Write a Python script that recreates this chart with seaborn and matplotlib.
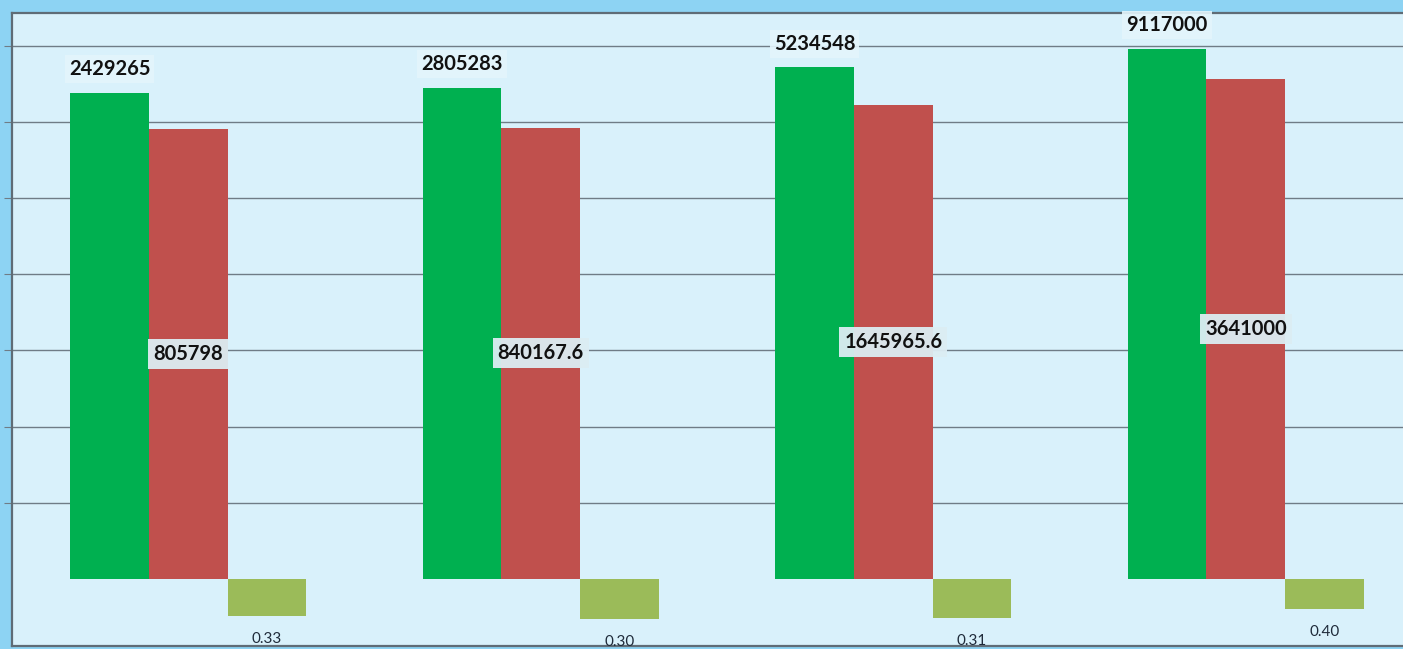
import matplotlib
matplotlib.use("Agg")
import matplotlib.pyplot as plt
import pandas as pd
import seaborn as sns

# data
groups = ["Q1", "Q2", "Q3", "Q4"]
series = ["Total", "Part", "Ratio"]
total = [2429265, 2805283, 5234548, 9117000]
part = [805798, 840167.6, 1645965.6, 3641000]
ratio = [0.33, 0.30, 0.31, 0.40]
total_labels = ["2429265", "2805283", "5234548", "9117000"]
part_labels = ["805798", "840167.6", "1645965.6", "3641000"]
ratio_labels = ["0.33", "0.30", "0.31", "0.40"]

colors = ["#00b050", "#c0504d", "#9bbb59"]

df = pd.DataFrame({
    "group": groups * 3,
    "series": [s for s in series for _ in groups],
    "value": total + part + ratio,
})

sns.set_style("white")
plt.rcParams["font.family"] = ["Lato", "DejaVu Sans"]

W, H = 1403, 649
fig = plt.figure(figsize=(W / 100, H / 100), dpi=100)
fig.patch.set_facecolor("#8dd3f3")

# axes: left edge at x=12, top at y=13, bottom at y=646, runs past the right edge
ax = fig.add_axes([12 / W, 1 - 646 / H, 1410 / W, 633 / H])
ax.set_facecolor("#d9f1fb")

sns.barplot(data=df, x="group", y="value", hue="series", order=groups,
            hue_order=series, palette=colors, width=0.67, gap=0,
            saturation=1, legend=False, ax=ax)
ax.set_yscale("log")

# log-axis bars start at 1 (the baseline), so ratios hang below it
for p in ax.patches:
    h = p.get_height()
    p.set_y(1)
    p.set_height(h - 1)
    p.set_edgecolor("none")

ax.set_xlim(-0.5, 3.5)
ax.set_ylim(10 ** -0.88, 10 ** 7.43)
ax.set_yticks([10 ** k for k in range(1, 8)])
ax.yaxis.set_minor_locator(matplotlib.ticker.NullLocator())
ax.set_yticklabels([])
ax.set_xticks([])
ax.tick_params(axis="y", direction="out", length=6, color="#6f7c86", left=True)
ax.grid(axis="y", color="#6f7c86", linewidth=1)
ax.set_axisbelow(True)
ax.set_xlabel("")
ax.set_ylabel("")
for side in ["left", "top", "bottom"]:
    ax.spines[side].set_color("#5f6c76")
    ax.spines[side].set_linewidth(1.6)
ax.spines["right"].set_visible(False)

bw = 0.67 / 3
for i in range(len(groups)):
    xg = i - bw
    xr = i
    xo = i + bw
    ax.annotate(total_labels[i], (xg, total[i]), xytext=(0, 17),
                textcoords="offset points", ha="center", va="center",
                fontsize=14.5, fontweight="bold", color="#111111",
                bbox=dict(boxstyle="square,pad=0.2", fc="#e4f5fc", ec="none", alpha=0.9))
    ax.text(xr, part[i] ** 0.5, part_labels[i], ha="center", va="center",
            fontsize=14.5, fontweight="bold", color="#111111",
            bbox=dict(boxstyle="square,pad=0.25", fc="#dcedf3", ec="none", alpha=0.95))
    ax.annotate(ratio_labels[i], (xo, ratio[i]), xytext=(0, -16.5),
                textcoords="offset points", ha="center", va="center",
                fontsize=11, color="#1f2b3a")

fig.savefig("out.png", dpi=100, facecolor=fig.get_facecolor())
